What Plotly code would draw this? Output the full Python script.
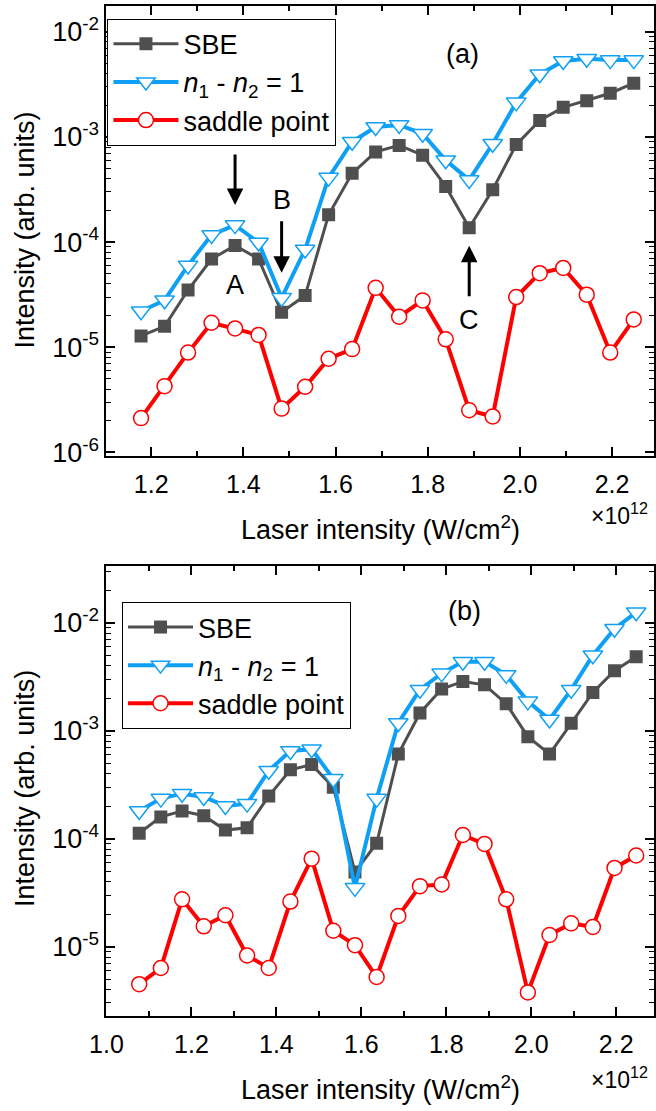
import math
import plotly.graph_objects as go

# Laser intensity grid (units of 1e12 W/cm^2)
x_b = [1.077, 1.128, 1.178, 1.229, 1.280, 1.331, 1.382, 1.433, 1.483, 1.534,
       1.585, 1.636, 1.687, 1.738, 1.789, 1.839, 1.890, 1.941, 1.992, 2.043,
       2.094, 2.145, 2.196, 2.247]
x_a = x_b[2:]

# Panel (a)
sbe_a = [1.28e-5, 1.58e-5, 3.5e-5, 6.9e-5, 9.3e-5, 6.9e-5, 2.15e-5, 3.1e-5,
         1.82e-4, 4.5e-4, 7.2e-4, 8.3e-4, 6.7e-4, 3.38e-4, 1.37e-4, 3.14e-4,
         8.45e-4, 1.43e-3, 1.91e-3, 2.21e-3, 2.6e-3, 3.24e-3]
n12_a = [2.2e-5, 2.8e-5, 6.0e-5, 1.17e-4, 1.45e-4, 9.9e-5, 2.95e-5, 8.5e-5,
         4.1e-4, 9.0e-4, 1.24e-3, 1.30e-3, 1.07e-3, 6.0e-4, 3.9e-4, 8.6e-4,
         2.13e-3, 3.94e-3, 5.26e-3, 5.54e-3, 5.37e-3, 5.37e-3]
sp_a = [2.12e-6, 4.27e-6, 8.9e-6, 1.71e-5, 1.51e-5, 1.31e-5, 2.61e-6, 4.21e-6,
        7.78e-6, 9.6e-6, 3.67e-5, 1.95e-5, 2.79e-5, 1.19e-5, 2.52e-6, 2.2e-6,
        3.0e-5, 5.06e-5, 5.68e-5, 3.16e-5, 8.9e-6, 1.84e-5]

# Panel (b)
sbe_b = [1.12e-4, 1.59e-4, 1.80e-4, 1.63e-4, 1.2e-4, 1.26e-4, 2.48e-4, 4.35e-4,
         4.85e-4, 3.0e-4, 4.9e-5, 9.06e-5, 6.07e-4, 1.46e-3, 2.43e-3, 2.86e-3,
         2.66e-3, 1.78e-3, 8.81e-4, 6.07e-4, 1.17e-3, 2.26e-3, 3.6e-3, 4.84e-3]
n12_b = [1.8e-4, 2.35e-4, 2.61e-4, 2.43e-4, 2.01e-4, 2.11e-4, 4.26e-4, 6.5e-4,
         6.74e-4, 3.58e-4, 3.5e-5, 2.35e-4, 1.18e-3, 2.4e-3, 3.4e-3, 4.36e-3,
         4.36e-3, 3.29e-3, 1.87e-3, 1.27e-3, 2.4e-3, 5.0e-3, 8.8e-3, 1.25e-2]
sp_b = [4.48e-6, 6.33e-6, 2.74e-5, 1.54e-5, 1.95e-5, 8.27e-6, 6.33e-6, 2.61e-5,
        6.52e-5, 1.40e-5, 1.03e-5, 5.22e-6, 1.92e-5, 3.63e-5, 3.76e-5, 1.08e-4,
        8.93e-5, 2.74e-5, 3.76e-6, 1.28e-5, 1.64e-5, 1.52e-5, 5.35e-5, 6.98e-5]

names = ["SBE", "<i>n</i><sub>1</sub> - <i>n</i><sub>2</sub> = 1", "saddle point"]
y_tickvals = [1e-6, 1e-5, 1e-4, 1e-3, 1e-2]
y_ticktext = ["10<sup>-6</sup>", "10<sup>-5</sup>", "10<sup>-4</sup>",
              "10<sup>-3</sup>", "10<sup>-2</sup>"]
y_minor = [k * 10.0 ** e for e in range(-7, -1) for k in range(2, 10)]

GRAY = "#4f4f4f"
BLUE = "#0fa0f5"
RED = "#ff0000"
FONT = "Liberation Sans, Arial, sans-serif"

W, H = 656, 1111

fig = go.Figure()


def add_panel(x, sbe, n12, sp, xa, ya, legend):
    fig.add_trace(go.Scatter(
        x=x, y=sbe, name=names[0], mode="lines+markers", xaxis=xa, yaxis=ya,
        legend=legend,
        line=dict(color=GRAY, width=3),
        marker=dict(symbol="square", size=13, color=GRAY)))
    fig.add_trace(go.Scatter(
        x=x, y=n12, name=names[1], mode="lines+markers", xaxis=xa, yaxis=ya,
        legend=legend,
        line=dict(color=BLUE, width=4),
        marker=dict(symbol="triangle-down", size=17, color="white",
                    line=dict(color=BLUE, width=1.5))))
    fig.add_trace(go.Scatter(
        x=x, y=sp, name=names[2], mode="lines+markers", xaxis=xa, yaxis=ya,
        legend=legend,
        line=dict(color=RED, width=4),
        marker=dict(symbol="circle", size=15, color="white",
                    line=dict(color=RED, width=1.5))))


add_panel(x_a, sbe_a, n12_a, sp_a, "x", "y", "legend")
add_panel(x_b, sbe_b, n12_b, sp_b, "x2", "y2", "legend2")


def px_y(p):
    return 1 - p / H


def px_x(p):
    return p / W


x_dom = [px_x(92), px_x(655)]

common_x = dict(
    showline=True, linecolor="black", linewidth=2, mirror="ticks",
    ticks="inside", ticklen=9, tickwidth=1.5, tickcolor="black",
    showgrid=False, zeroline=False, tickformat=".1f", dtick=0.2,
    ticklabelstandoff=5,
    tickfont=dict(family=FONT, size=25, color="black"),
    minor=dict(ticks="inside", ticklen=5, tickwidth=1.5, tickcolor="black",
               dtick=0.1, showgrid=False),
)
common_y = dict(
    type="log", showline=True, linecolor="black", linewidth=2, mirror="ticks",
    ticks="inside", ticklen=9, tickwidth=1.5, tickcolor="black",
    showgrid=False, zeroline=False,
    tickmode="array", tickvals=y_tickvals, ticktext=y_ticktext,
    tickfont=dict(family=FONT, size=27, color="black"),
    minor=dict(ticks="inside", ticklen=5, tickwidth=1, tickcolor="black",
               tickmode="array", tickvals=y_minor, showgrid=False),
)

legend_common = dict(xanchor="left", yanchor="top", bgcolor="white",
                     bordercolor="black", borderwidth=1,
                     font=dict(family=FONT, size=27, color="black"),
                     itemwidth=65, tracegroupgap=0)

fig.update_layout(
    width=W, height=H,
    margin=dict(l=0, r=0, t=0, b=0),
    paper_bgcolor="white", plot_bgcolor="white",
    font=dict(family=FONT, color="black"),
    xaxis=dict(common_x, domain=x_dom, range=[1.103, 2.291], tick0=1.2,
               anchor="y"),
    yaxis=dict(common_y, domain=[px_y(461), px_y(6)], range=[-6.038, -1.755],
               anchor="x"),
    xaxis2=dict(common_x, domain=x_dom, range=[1.0, 2.289], tick0=1.0,
                anchor="y2"),
    yaxis2=dict(common_y, domain=[px_y(1026), px_y(572)],
                range=[-5.642, -1.477], anchor="x2"),
    legend=dict(legend_common, x=px_x(93), y=px_y(19)),
    legend2=dict(legend_common, x=px_x(108), y=px_y(608)),
    showlegend=True,
)

ann = []


def label(text, xp, yp, size, **kw):
    ann.append(dict(text=text, xref="paper", yref="paper", x=px_x(xp),
                    y=px_y(yp), xanchor="center", yanchor="middle",
                    showarrow=False, font=dict(size=size), **kw))


# panel labels
label("(a)", 458, 55, 27)
label("(b)", 460, 617, 27)
# axis titles
for yc in (533, 1099):
    label("Laser intensity (W/cm<sup>2</sup>)", 374, yc, 27)
for yc in (519, 1089):
    label("×10<sup>12</sup>", 619, yc, 23)
for yc in (232, 796):
    label("Intensity (arb. units)", 8, yc, 27, textangle=-90)

# arrows marking features A, B, C in panel (a)
arrow_common = dict(xref="x", yref="y", axref="pixel", ayref="pixel",
                    showarrow=True, arrowhead=2, arrowsize=1.1, arrowwidth=3,
                    arrowcolor="black", text="", ax=0)
ann.append(dict(arrow_common, x=x_a[4], y=math.log10(n12_a[4]), ay=-72,
                standoff=20))
ann.append(dict(arrow_common, x=x_a[6], y=math.log10(n12_a[6]), ay=-78,
                standoff=25))
ann.append(dict(arrow_common, x=x_a[14], y=math.log10(sbe_a[14]), ay=70,
                standoff=18))


def point_label(text, xv, yv, shift):
    ann.append(dict(text=text, xref="x", yref="y", x=xv, y=math.log10(yv),
                    yshift=shift, xanchor="center", yanchor="middle",
                    showarrow=False, font=dict(size=27)))


point_label("A", x_a[4], sbe_a[4], -40)
point_label("B", x_a[6], n12_a[6], 98)
point_label("C", x_a[14], sbe_a[14], -92)

fig.update_layout(annotations=ann)

fig.write_html("out.html")
